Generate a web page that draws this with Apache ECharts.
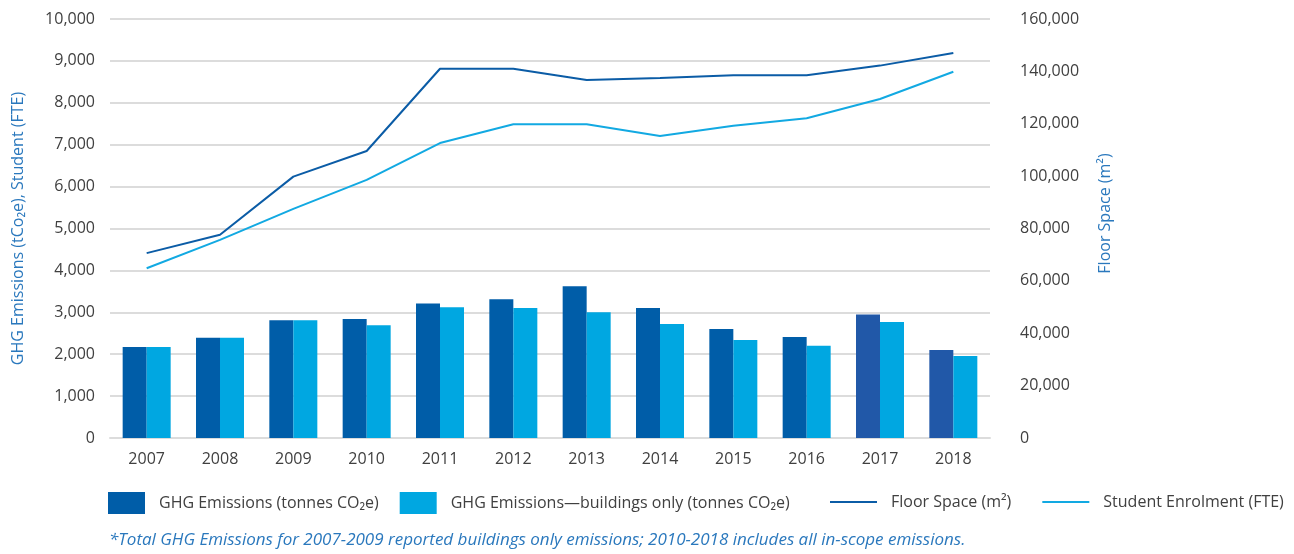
<!DOCTYPE html>
<html>
<head>
<meta charset="utf-8">
<script src="https://cdn.jsdelivr.net/npm/echarts@6/dist/echarts.min.js"></script>
<style>
  html, body { margin: 0; padding: 0; background: #fff; }
  #chart { width: 1294px; height: 554px; }
</style>
</head>
<body>
<div id="chart"></div>
<script>
const years = ["2007", "2008", "2009", "2010", "2011", "2012", "2013", "2014", "2015", "2016", "2017", "2018"];
const ghgTotal = [2170, 2390, 2810, 2840, 3210, 3310, 3620, 3100, 2600, 2410, 2950, 2100];
const ghgBuildings = [2170, 2390, 2810, 2690, 3120, 3100, 3000, 2720, 2340, 2200, 2770, 1960];
const floorSpace = [70600, 77600, 99800, 109600, 141000, 141000, 136700, 137500, 138500, 138500, 142200, 147000];
const studentFte = [4050, 4730, 5470, 6160, 7040, 7490, 7490, 7210, 7450, 7630, 8090, 8740];

const font = "Open Sans";
const darkBlue = "#005da8";
const lateBlue = "#2158a8"; // 2017-2018 bars are a touch lighter
const lightBlue = "#00a7e1";
const floorColor = "#0b5ca6";
const studentColor = "#12a9e2";

let chart = echarts.init(document.getElementById("chart"));

let option = {
  animation: false,
  textStyle: { fontFamily: font },
  grid: { left: 110, right: 304, top: 19, bottom: 116 },
  legend: [
    {
      data: ["GHG Emissions (tonnes CO₂e)", "GHG Emissions—buildings only (tonnes CO₂e)"],
      icon: "rect",
      left: 108,
      top: 492,
      padding: 0,
      itemWidth: 37,
      itemHeight: 22,
      itemGap: 21,
      textStyle: { fontSize: 16, color: "#404040", padding: [0, 0, 0, 9] },
    },
    {
      data: ["Floor Space (m²)", "Student Enrolment (FTE)"],
      icon: "rect",
      left: 830,
      top: 494,
      padding: 0,
      itemWidth: 47,
      itemHeight: 2,
      itemGap: 31,
      textStyle: { fontSize: 16, color: "#404040", padding: [0, 0, 0, 9] },
    },
  ],
  title: {
    text: "*Total GHG Emissions for 2007-2009 reported buildings only emissions; 2010-2018 includes all in-scope emissions.",
    left: 104,
    top: 527,
    textStyle: { fontSize: 17, fontStyle: "italic", fontWeight: "normal", color: "#2a78bd", fontFamily: font },
  },
  xAxis: {
    type: "category",
    data: years,
    axisLine: { show: true, lineStyle: { color: "#dcdcdc", width: 2 } },
    axisTick: { show: false },
    axisLabel: { fontSize: 16, color: "#404040", margin: 13 },
  },
  yAxis: [
    {
      type: "value",
      min: 0,
      max: 10000,
      interval: 1000,
      name: "GHG Emissions (tCo₂e), Student (FTE)",
      nameLocation: "middle",
      nameGap: 84,
      nameTextStyle: { fontSize: 16, color: "#2a78bd" },
      axisLine: { show: false },
      axisTick: { show: false },
      axisLabel: {
        fontSize: 16,
        color: "#404040",
        margin: 15,
        formatter: (v) => v.toLocaleString("en-US"),
      },
      splitLine: { lineStyle: { color: "#dcdcdc", width: 2 } },
    },
    {
      type: "value",
      min: 0,
      max: 160000,
      interval: 20000,
      name: "Floor Space (m²)",
      nameLocation: "middle",
      nameGap: 107,
      nameTextStyle: { fontSize: 16, color: "#2a78bd", padding: [0, 0, 0, 30] },
      axisLine: { show: false },
      axisTick: { show: false },
      axisLabel: {
        fontSize: 16,
        color: "#404040",
        margin: 30,
        formatter: (v) => v.toLocaleString("en-US"),
      },
      splitLine: { show: false },
    },
  ],
  series: [
    {
      name: "GHG Emissions (tonnes CO₂e)",
      type: "bar",
      barWidth: 24,
      barGap: "0%",
      itemStyle: { color: darkBlue },
      data: ghgTotal.map((v, i) => ({
        value: v,
        itemStyle: { color: Number(years[i]) >= 2017 ? lateBlue : darkBlue },
      })),
    },
    {
      name: "GHG Emissions—buildings only (tonnes CO₂e)",
      type: "bar",
      barWidth: 24,
      itemStyle: { color: lightBlue },
      data: ghgBuildings,
    },
    {
      name: "Floor Space (m²)",
      type: "line",
      yAxisIndex: 1,
      symbol: "none",
      lineStyle: { color: floorColor, width: 2 },
      itemStyle: { color: floorColor },
      data: floorSpace,
    },
    {
      name: "Student Enrolment (FTE)",
      type: "line",
      symbol: "none",
      lineStyle: { color: studentColor, width: 2 },
      itemStyle: { color: studentColor },
      data: studentFte,
    },
  ],
};

chart.setOption(option);
</script>
</body>
</html>
